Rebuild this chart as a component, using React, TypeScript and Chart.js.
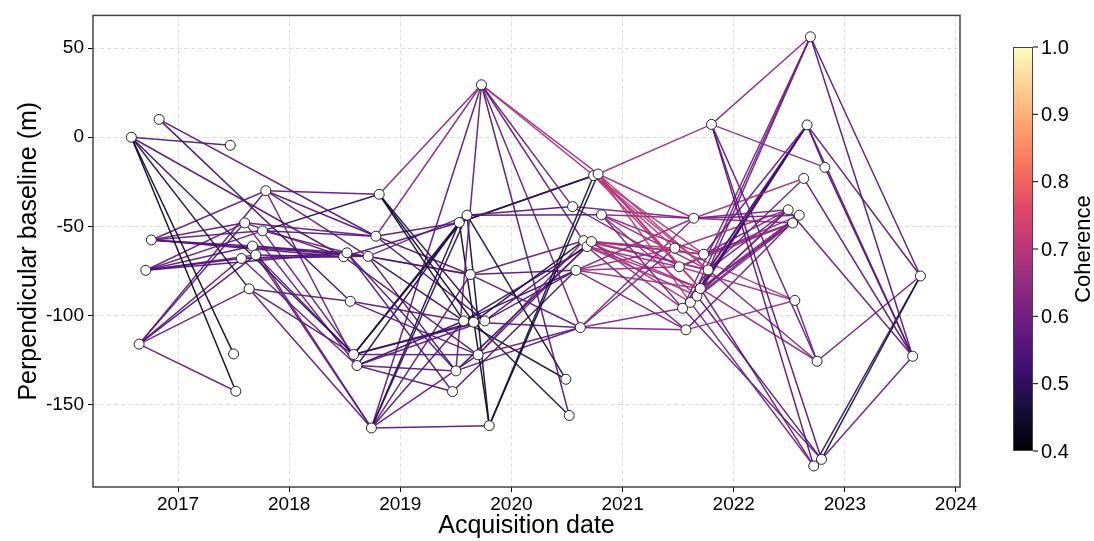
import { useEffect, useRef } from 'react';
import { Chart, registerables } from 'chart.js';
Chart.register(...registerables);

// Acquisition dates (decimal years) and perpendicular baselines (m)
const acqDates = [
  2016.58, 2016.65, 2016.71, 2016.76, 2016.83, 2017.47, 2017.50, 2017.52, 2017.57, 2017.60,
  2017.64, 2017.67, 2017.70, 2017.76, 2017.79, 2018.49, 2018.52, 2018.55, 2018.58, 2018.61,
  2018.71, 2018.74, 2018.78, 2018.81, 2019.47, 2019.50, 2019.53, 2019.57, 2019.60, 2019.63,
  2019.66, 2019.70, 2019.73, 2019.76, 2019.80, 2020.49, 2020.52, 2020.55, 2020.58, 2020.62,
  2020.65, 2020.68, 2020.72, 2020.74, 2020.78, 2020.81, 2021.47, 2021.51, 2021.54, 2021.57,
  2021.61, 2021.64, 2021.67, 2021.70, 2021.73, 2021.77, 2021.80, 2022.49, 2022.53, 2022.55,
  2022.59, 2022.63, 2022.66, 2022.69, 2022.72, 2022.75, 2022.79, 2022.82, 2023.61, 2023.68,
];
const baselines = [
  0, -116, -74.6, -57.6, 10, -4.5, -121.5, -142.4, -68, -48,
  -85, -61, -66, -52.5, -30, -67, -64.8, -92, -121.8, -128,
  -66.8, -163, -55.5, -32, -142.6, -131, -47.8, -103, -43.7, -77,
  -103.7, -122, 29.4, -103, -161.7, -135.7, -156, -38.9, -74.6, -106.7,
  -58, -61.3, -58.5, -21.5, -20.6, -43.5, -62.2, -72.6, -95.9, -108,
  -92.6, -45.4, -89, -84.8, -65.6, -74.4, 7.2, -40.7, -48.1, -91.5,
  -43.7, -23.1, 6.9, 56.3, -184.3, -125.6, -180.6, -16.9, -122.8, -77.8,
];

// Interferogram pairs (indices into the acquisitions) and their coherence
const edgeFrom = [
  0, 0, 0, 0, 0, 0, 4, 4, 3, 3, 3, 3, 3, 3, 2, 2, 2, 2, 2, 2, 1, 1, 1, 1, 1, 1,
  14, 14, 14, 14, 13, 13, 13, 13, 9, 9, 9, 11, 11, 11, 12, 12, 12, 8, 8, 8, 10, 10, 10,
  23, 23, 23, 23, 22, 22, 22, 22, 20, 20, 20, 20, 16, 16, 16, 15, 15, 17, 17, 18, 18, 18, 18, 18,
  19, 19, 19, 19, 19, 21, 21, 21, 21, 21, 21, 21,
  32, 32, 32, 32, 32, 32, 32, 28, 28, 28, 26, 34, 34, 28, 26, 26, 31, 31, 31, 27, 30, 33, 33, 30, 27,
  29, 29, 29, 25, 25, 24, 27, 30,
  43, 43, 44, 44, 44, 43, 44, 45, 45, 45, 45, 37, 37, 40, 40, 40, 41, 41, 42, 42, 42, 41, 38, 38, 38, 38,
  39, 39, 39, 39, 44,
  43, 44, 40, 42, 45, 38, 41,
  56, 56, 56, 56, 56, 51, 51, 51, 51, 52, 53, 55, 54, 50, 55, 54, 53, 52, 50, 48, 47, 47, 49, 46,
  46, 47, 53, 54, 55, 49, 48, 52,
  63, 63, 63, 63, 63, 62, 62, 67, 61, 57, 66, 64, 66, 65, 59, 55, 53, 50, 48, 52, 53, 62,
];
const edgeTo = [
  5, 6, 7, 10, 15, 18, 22, 17, 14, 13, 11, 9, 20, 15, 9, 11, 8, 13, 12, 16, 7, 14, 9, 8, 10, 12,
  23, 22, 20, 19, 23, 22, 16, 18, 22, 15, 19, 20, 16, 21, 15, 18, 21, 16, 20, 19, 17, 18, 21,
  32, 27, 30, 33, 32, 26, 29, 33, 28, 29, 27, 25, 29, 25, 24, 26, 31, 31, 27, 28, 26, 30, 33, 31,
  26, 27, 33, 25, 24, 34, 28, 26, 32, 29, 31, 27,
  37, 43, 44, 39, 41, 36, 25, 37, 45, 34, 34, 43, 44, 35, 43, 44, 40, 42, 39, 41, 40, 42, 38, 39, 38,
  38, 39, 40, 39, 41, 38, 35, 36,
  46, 55, 47, 53, 51, 54, 50, 51, 54, 52, 48, 51, 47, 46, 53, 55, 47, 52, 50, 48, 54, 49, 51, 47, 53, 49,
  49, 48, 46, 51, 56,
  53, 55, 54, 55, 55, 46, 53,
  67, 64, 66, 65, 63, 61, 57, 58, 60, 62, 62, 62, 62, 62, 61, 57, 58, 60, 58, 57, 60, 59, 59, 59,
  57, 58, 60, 58, 57, 60, 62, 57,
  48, 50, 53, 68, 69, 68, 69, 68, 68, 68, 69, 69, 68, 69, 65, 65, 65, 64, 66, 66, 64, 67,
];
const coherence = [
  0.55, 0.44, 0.42, 0.48, 0.55, 0.50, 0.55, 0.52, 0.58, 0.57, 0.56, 0.57, 0.55, 0.56, 0.57, 0.56, 0.55, 0.58, 0.56, 0.55, 0.57, 0.56, 0.55, 0.56, 0.58, 0.55,
  0.56, 0.56, 0.57, 0.58, 0.47, 0.56, 0.57, 0.58, 0.57, 0.56, 0.58, 0.56, 0.57, 0.58, 0.56, 0.57, 0.57, 0.56, 0.55, 0.58, 0.56, 0.55, 0.56,
  0.62, 0.45, 0.46, 0.50, 0.63, 0.55, 0.56, 0.53, 0.58, 0.55, 0.50, 0.52, 0.57, 0.55, 0.56, 0.55, 0.56, 0.55, 0.56, 0.47, 0.46, 0.50, 0.55, 0.57,
  0.48, 0.52, 0.57, 0.56, 0.56, 0.55, 0.50, 0.47, 0.56, 0.56, 0.57, 0.55,
  0.58, 0.68, 0.67, 0.58, 0.57, 0.55, 0.57, 0.55, 0.55, 0.45, 0.44, 0.47, 0.46, 0.46, 0.50, 0.48, 0.60, 0.58, 0.58, 0.50, 0.48, 0.55, 0.55, 0.56, 0.52,
  0.55, 0.56, 0.57, 0.56, 0.50, 0.52, 0.47, 0.47,
  0.70, 0.72, 0.70, 0.72, 0.66, 0.70, 0.70, 0.62, 0.65, 0.66, 0.60, 0.60, 0.62, 0.68, 0.68, 0.66, 0.66, 0.67, 0.68, 0.66, 0.68, 0.62, 0.64, 0.65, 0.66, 0.60,
  0.60, 0.62, 0.62, 0.61, 0.66,
  0.70, 0.71, 0.67, 0.69, 0.64, 0.66, 0.68,
  0.63, 0.56, 0.55, 0.58, 0.63, 0.67, 0.60, 0.62, 0.60, 0.52, 0.54, 0.56, 0.58, 0.55, 0.60, 0.62, 0.60, 0.60, 0.62, 0.62, 0.65, 0.68, 0.66, 0.68,
  0.66, 0.65, 0.63, 0.62, 0.60, 0.60, 0.55, 0.60,
  0.60, 0.60, 0.58, 0.55, 0.56, 0.56, 0.55, 0.55, 0.56, 0.57, 0.47, 0.50, 0.58, 0.58, 0.60, 0.62, 0.64, 0.60, 0.58, 0.56, 0.58, 0.58,
];

const xTickYears = [2017, 2018, 2019, 2020, 2021, 2022, 2023, 2024];
const yTickValues = [50, 0, -50, -100, -150];
const cbTicks = [0.4, 0.5, 0.6, 0.7, 0.8, 0.9, 1.0];
const cohMin = 0.4;
const cohMax = 1.0;

const MAGMA: number[][] = [
  [0, 0, 4], [20, 14, 54], [59, 15, 112], [100, 26, 128], [140, 41, 129], [183, 55, 121],
  [222, 73, 104], [247, 112, 92], [254, 159, 109], [254, 207, 146], [252, 253, 191],
];
function magma(t: number): number[] {
  const tt = Math.max(0, Math.min(1, t)) * (MAGMA.length - 1);
  const i = Math.min(MAGMA.length - 2, Math.floor(tt));
  const f = tt - i;
  const a = MAGMA[i], b = MAGMA[i + 1];
  return [0, 1, 2].map(k => Math.round(a[k] + (b[k] - a[k]) * f));
}
function cohColor(c: number, alpha = 0.92): string {
  const [r, g, b] = magma((c - cohMin) / (cohMax - cohMin));
  return `rgba(${r},${g},${b},${alpha})`;
}

const FONT = '"Liberation Sans", Arial, sans-serif';

const colorbarPlugin = {
  id: 'colorbarAndFrame',
  afterDraw(chart: any) {
    const ctx = chart.ctx as CanvasRenderingContext2D;
    const a = chart.chartArea;
    ctx.save();
    // plot frame
    ctx.strokeStyle = '#444';
    ctx.lineWidth = 1.5;
    ctx.strokeRect(a.left, a.top, a.right - a.left, a.bottom - a.top);
    // colorbar
    const x0 = 1013, x1 = 1033, yTop = 47, yBot = 451;
    const grad = ctx.createLinearGradient(0, yBot, 0, yTop);
    MAGMA.forEach((c, i) => grad.addColorStop(i / (MAGMA.length - 1), `rgb(${c[0]},${c[1]},${c[2]})`));
    ctx.fillStyle = grad;
    ctx.fillRect(x0, yTop, x1 - x0, yBot - yTop);
    ctx.strokeStyle = '#444';
    ctx.lineWidth = 1;
    ctx.strokeRect(x0 + 0.5, yTop + 0.5, x1 - x0 - 1, yBot - yTop - 1);
    ctx.fillStyle = '#000';
    ctx.font = `20px ${FONT}`;
    ctx.textBaseline = 'middle';
    ctx.textAlign = 'left';
    cbTicks.forEach(v => {
      const y = yBot - ((v - cohMin) / (cohMax - cohMin)) * (yBot - yTop);
      ctx.beginPath();
      ctx.moveTo(x1, y);
      ctx.lineTo(x1 + 5, y);
      ctx.strokeStyle = '#000';
      ctx.stroke();
      ctx.fillText(v.toFixed(1), x1 + 8, y + 1);
    });
    ctx.translate(1084, (yTop + yBot) / 2);
    ctx.rotate(-Math.PI / 2);
    ctx.textAlign = 'center';
    ctx.font = `22px ${FONT}`;
    ctx.fillText('Coherence', 0, 0);
    ctx.restore();
  },
};

export default function App() {
  const ref = useRef<HTMLCanvasElement>(null);
  useEffect(() => {
    if (!ref.current) return;
    const edgeSets = edgeFrom.map((f, i) => ({
      data: [
        { x: acqDates[f], y: baselines[f] },
        { x: acqDates[edgeTo[i]], y: baselines[edgeTo[i]] },
      ],
      showLine: true,
      borderColor: cohColor(coherence[i]),
      borderWidth: 1.5,
      pointRadius: 0,
      pointHoverRadius: 0,
      order: 1,
    }));
    const nodeSet = {
      data: acqDates.map((d, i) => ({ x: d, y: baselines[i] })),
      showLine: false,
      pointRadius: 5,
      pointBackgroundColor: '#ffffff',
      pointBorderColor: '#222',
      pointBorderWidth: 1,
      order: 0,
    };
    const chart = new Chart(ref.current, {
      type: 'scatter',
      data: { datasets: [nodeSet, ...edgeSets] as any },
      options: {
        animation: false,
        responsive: false,
        events: [],
        layout: { padding: { top: 11, right: 134, left: 0, bottom: 0 } },
        plugins: { legend: { display: false }, tooltip: { enabled: false } },
        scales: {
          x: {
            type: 'linear',
            min: 2016.235,
            max: 2024.036,
            afterBuildTicks: (s: any) => { s.ticks = xTickYears.map(v => ({ value: v })); },
            afterFit: (s: any) => { s.height = 54; },
            ticks: { color: '#000', font: { size: 19, family: FONT }, padding: 1, maxRotation: 0, autoSkip: false, callback: (v: any) => String(v) },
            grid: { color: '#dddddd', lineWidth: 1, tickColor: '#000', tickLength: 5, tickWidth: 1, tickBorderDash: [] },
            border: { display: false, dash: [4, 3] },
            title: { display: true, text: 'Acquisition date', color: '#000', font: { size: 25, family: FONT }, padding: { top: 0, bottom: 0 } },
          },
          y: {
            type: 'linear',
            min: -196.1,
            max: 68.3,
            afterBuildTicks: (s: any) => { s.ticks = yTickValues.map(v => ({ value: v })); },
            afterFit: (s: any) => { s.width = 93; },
            ticks: { color: '#000', font: { size: 19, family: FONT }, padding: 4, callback: (v: any) => String(v) },
            grid: { color: '#dddddd', lineWidth: 1, tickColor: '#000', tickLength: 5, tickWidth: 1, tickBorderDash: [] },
            border: { display: false, dash: [4, 3] },
            title: { display: true, text: 'Perpendicular baseline (m)', color: '#000', font: { size: 25, family: FONT }, padding: { top: 14, bottom: 0 } },
          },
        },
      },
      plugins: [colorbarPlugin],
    });
    return () => chart.destroy();
  }, []);
  return (
    <canvas
      ref={ref}
      width={1094}
      height={541}
      style={{ position: 'absolute', left: 0, top: 0, width: 1094, height: 541 }}
    />
  );
}
